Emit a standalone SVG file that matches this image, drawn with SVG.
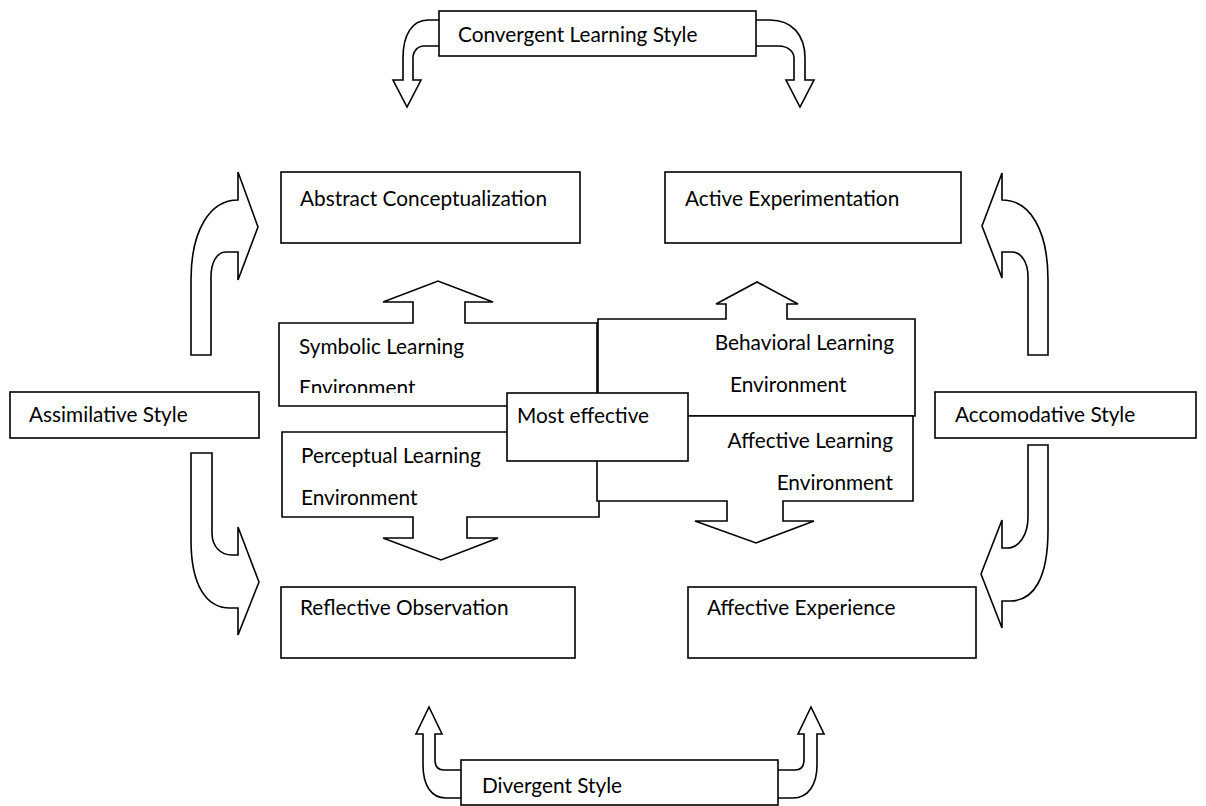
<svg xmlns="http://www.w3.org/2000/svg" width="1206" height="806" viewBox="0 0 1206 806">
  <defs>
    <style>
      .box { fill: #ffffff; stroke: #000000; stroke-width: 1.6; }
      .arrow { fill: #ffffff; stroke: #000000; stroke-width: 1.6; stroke-linejoin: miter; }
      .lbl { font-family: Lato, "Liberation Sans", sans-serif; font-size: 20.8px; fill: #000000; }
      .end { text-anchor: end; }
    </style>
    <clipPath id="symbolic-clip">
      <rect x="279" y="323" width="318" height="70"/>
    </clipPath>
  </defs>
  <rect width="1206" height="806" fill="#ffffff"/>

  <!-- curved block arrows between the style boxes and the stages -->
  <g id="connectors">
    <!-- convergent style: left and right -->
    <path class="arrow" d="M439,20 L428,20 C412,20 403,35 403,58 L403,80 L393,80 L407,107 L421,80 L413,80 L413,58 C413,51 418,46 424,46 L439,46"/>
    <path class="arrow" d="M756,20 L770,20 C792,20 805,35 805,58 L805,80 L814,80 L800,107 L786,80 L794,80 L794,58 C794,51 787,46 779,46 L756,46"/>
    <!-- assimilative style: up and down -->
    <path class="arrow" d="M191,355 L191,280 C191,230 210,200 238,200 L238,172 L258,227 L238,280 L238,252 L226,252 C217,252 211,262 211,277 L211,355 Z"/>
    <path class="arrow" d="M191,453 L212,453 L212,533 C212,547 221,555 232,555 L238,555 L238,527 L259,582 L238,635 L238,608 L230,608 C206,608 191,585 191,540 Z"/>
    <!-- accomodative style: up and down -->
    <path class="arrow" d="M1048,355 L1048,280 C1048,230 1030,200 1002,200 L1002,173 L982,226 L1002,278 L1002,252 L1012,252 C1021,252 1028,262 1028,277 L1028,355 Z"/>
    <path class="arrow" d="M1048,445 L1028,445 L1028,517 C1028,535 1019,548 1007,548 L1002,548 L1002,520 L981,574 L1002,628 L1002,601 L1010,601 C1034,601 1048,578 1048,530 Z"/>
    <!-- divergent style: left and right -->
    <path class="arrow" d="M461,798 L446,798 C431,798 423,785 423,765 L423,734 L416,734 L429,707 L442,734 L435,734 L435,760 C435,766 438,770 444,770 L461,770"/>
    <path class="arrow" d="M778,798 L793,798 C808,798 817,785 817,765 L817,734 L824,734 L811,707 L798,734 L804,734 L804,760 C804,766 801,770 795,770 L778,770"/>
  </g>

  <g id="convergent">
    <rect class="box" x="439" y="11" width="317" height="45"/>
    <text class="lbl" x="458" y="42">Convergent Learning Style</text>
  </g>

  <g id="abstract-conceptualization">
    <rect class="box" x="281" y="172" width="299" height="71"/>
    <text class="lbl" x="300" y="206">Abstract Conceptualization</text>
  </g>

  <g id="active-experimentation">
    <rect class="box" x="665" y="172" width="296" height="71"/>
    <text class="lbl" x="685" y="206">Active Experimentation</text>
  </g>

  <g id="assimilative">
    <rect class="box" x="10" y="392" width="249" height="46"/>
    <text class="lbl" x="29" y="422">Assimilative Style</text>
  </g>

  <g id="accomodative">
    <rect class="box" x="935" y="392" width="261" height="46"/>
    <text class="lbl" x="955" y="422">Accomodative Style</text>
  </g>

  <g id="symbolic">
    <path class="box" d="M279,323 L413,323 L413,302 L383,302 L438,281 L493,302 L465,302 L465,323 L597,323 L597,406 L279,406 Z"/>
    <g clip-path="url(#symbolic-clip)">
      <text class="lbl" x="299" y="354">Symbolic Learning</text>
      <text class="lbl" x="299" y="395">Environment</text>
    </g>
  </g>

  <g id="perceptual">
    <path class="box" d="M282,432 L599,432 L599,517 L467,517 L467,538 L498,538 L441,560 L383,538 L413,538 L413,517 L282,517 Z"/>
    <text class="lbl" x="301" y="463">Perceptual Learning</text>
    <text class="lbl" x="301" y="505">Environment</text>
  </g>

  <g id="behavioral">
    <path class="box" d="M598,319 L726,319 L726,304 L716,304 L757,282 L798,304 L787,304 L787,319 L915,319 L915,416 L598,416 Z"/>
    <text class="lbl end" x="894" y="350">Behavioral Learning</text>
    <text class="lbl" x="730" y="392">Environment</text>
  </g>

  <g id="affective-learning">
    <path class="box" d="M597,416 L913,416 L913,501 L783,501 L783,521 L814,521 L756,543 L695,521 L727,521 L727,501 L597,501 Z"/>
    <text class="lbl end" x="893" y="448">Affective Learning</text>
    <text class="lbl end" x="893" y="490">Environment</text>
  </g>

  <g id="most-effective">
    <rect class="box" x="507" y="393" width="181" height="68"/>
    <text class="lbl" x="517" y="423">Most effective</text>
  </g>

  <g id="reflective-observation">
    <rect class="box" x="281" y="587" width="294" height="71"/>
    <text class="lbl" x="300" y="615">Reflective Observation</text>
  </g>

  <g id="affective-experience">
    <rect class="box" x="688" y="587" width="288" height="71"/>
    <text class="lbl" x="707" y="615">Affective Experience</text>
  </g>

  <g id="divergent">
    <rect class="box" x="461" y="760" width="317" height="45"/>
    <text class="lbl" x="482" y="793">Divergent Style</text>
  </g>
</svg>
